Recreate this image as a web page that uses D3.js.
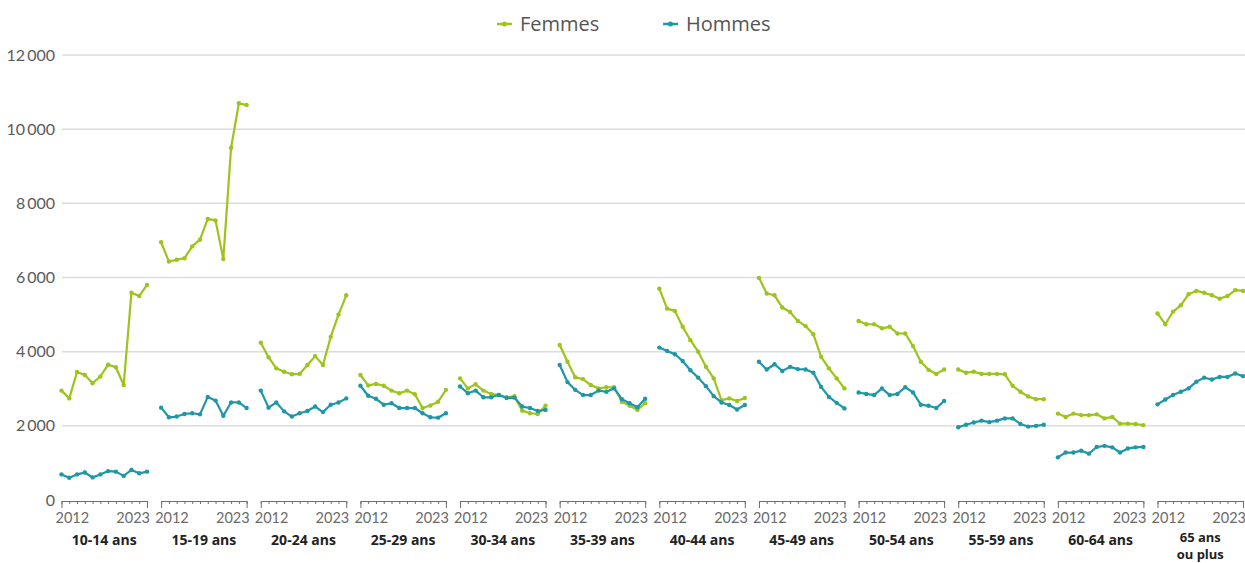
<!DOCTYPE html>
<html lang="fr">
<head>
<meta charset="UTF-8">
<title>Femmes / Hommes par âge</title>
<script src="https://d3js.org/d3.v7.min.js"></script>
<style>
  body { margin: 0; background: #fff; }
  svg { display: block; font-family: Lato, "Open Sans", sans-serif; }
</style>
</head>
<body>
<div id="chart"></div>
<script>
  // années et groupes d'âge
  const years = [2012, 2013, 2014, 2015, 2016, 2017, 2018, 2019, 2020, 2021, 2022, 2023];
  const groups = ["10-14 ans", "15-19 ans", "20-24 ans", "25-29 ans", "30-34 ans", "35-39 ans",
    "40-44 ans", "45-49 ans", "50-54 ans", "55-59 ans", "60-64 ans", "65 ans\nou plus"];

  // valeurs, une ligne par groupe d'âge
  const femmes = [
    [2950, 2740, 3450, 3370, 3150, 3330, 3650, 3580, 3100, 5590, 5500, 5800],
    [6950, 6430, 6480, 6520, 6840, 7020, 7580, 7540, 6500, 9500, 10700, 10650],
    [4240, 3850, 3550, 3460, 3390, 3400, 3640, 3880, 3640, 4400, 5000, 5520],
    [3370, 3090, 3130, 3080, 2950, 2880, 2950, 2850, 2480, 2550, 2650, 2970],
    [3280, 3010, 3120, 2950, 2860, 2830, 2770, 2800, 2410, 2340, 2320, 2540],
    [4180, 3730, 3310, 3260, 3100, 3010, 3040, 3040, 2650, 2540, 2430, 2610],
    [5700, 5160, 5100, 4670, 4310, 4000, 3590, 3280, 2690, 2740, 2670, 2750],
    [5990, 5570, 5520, 5190, 5070, 4830, 4690, 4470, 3860, 3550, 3280, 3010],
    [4830, 4740, 4740, 4630, 4670, 4490, 4490, 4150, 3730, 3510, 3400, 3520],
    [3520, 3430, 3460, 3400, 3400, 3400, 3390, 3080, 2920, 2790, 2720, 2720],
    [2330, 2240, 2330, 2290, 2290, 2310, 2200, 2240, 2060, 2060, 2050, 2020],
    [5030, 4740, 5080, 5250, 5550, 5640, 5590, 5520, 5430, 5500, 5660, 5640]
  ];
  const hommes = [
    [690, 600, 690, 740, 610, 690, 780, 765, 650, 810, 720, 765],
    [2490, 2230, 2250, 2320, 2340, 2310, 2780, 2680, 2270, 2630, 2630, 2480],
    [2950, 2490, 2630, 2390, 2250, 2340, 2400, 2520, 2370, 2570, 2630, 2740],
    [3080, 2810, 2730, 2570, 2610, 2480, 2480, 2480, 2340, 2230, 2220, 2340],
    [3060, 2880, 2950, 2770, 2770, 2830, 2750, 2760, 2520, 2480, 2400, 2430],
    [3640, 3180, 2970, 2830, 2830, 2950, 2920, 3010, 2720, 2610, 2500, 2730],
    [4110, 4020, 3930, 3750, 3500, 3300, 3070, 2800, 2630, 2560, 2440, 2560],
    [3730, 3520, 3660, 3480, 3590, 3530, 3520, 3430, 3050, 2780, 2620, 2470],
    [2900, 2860, 2830, 3010, 2830, 2860, 3040, 2900, 2570, 2540, 2480, 2670],
    [1960, 2030, 2090, 2140, 2100, 2140, 2200, 2200, 2050, 1980, 2000, 2030],
    [1150, 1280, 1280, 1330, 1250, 1430, 1460, 1420, 1280, 1390, 1420, 1430],
    [2580, 2710, 2830, 2920, 3010, 3190, 3300, 3250, 3320, 3320, 3410, 3340]
  ];

  const yTicks = [0, 2000, 4000, 6000, 8000, 10000, 12000];
  const yTickLabels = ["0", "2\u2009000", "4\u2009000", "6\u2009000", "8\u2009000", "10\u2009000", "12\u2009000"];

  const seriesNames = ["Femmes", "Hommes"];
  const colors = { Femmes: "#9cc41c", Hommes: "#1e97a6" };

  const width = 1245;
  const height = 563;

  const svg = d3.select("#chart").append("svg")
    .attr("width", width)
    .attr("height", height);

  const y = d3.scaleLinear().domain([0, 12000]).range([500, 55]);

  // un panneau par groupe d'âge
  const panel = d3.scaleBand()
    .domain(groups)
    .range([61.5, 1243])
    .paddingInner(0.142)
    .paddingOuter(0);

  const x = d3.scaleLinear()
    .domain([2012, 2023])
    .range([0, panel.bandwidth()]);

  // grille horizontale
  svg.append("g")
    .selectAll("line")
    .data(yTicks.filter(d => d > 0))
    .join("line")
    .attr("x1", 62)
    .attr("x2", width)
    .attr("y1", d => y(d))
    .attr("y2", d => y(d))
    .attr("stroke", "#dcdcdc")
    .attr("stroke-width", 1.5);

  svg.append("g")
    .selectAll("text")
    .data(yTicks)
    .join("text")
    .attr("x", 55)
    .attr("y", d => y(d))
    .attr("dy", "0.35em")
    .attr("text-anchor", "end")
    .attr("fill", "#5a5a5a")
    .style("font-size", "16px")
    .text((d, i) => yTickLabels[i]);

  const line = d3.line()
    .x((d, i) => x(years[i]))
    .y(d => y(d));

  groups.forEach((g, gi) => {
    const gp = svg.append("g")
      .attr("transform", `translate(${panel(g)},0)`);

    // axe en crochet
    const axis = d3.axisBottom(x)
      .tickValues(years)
      .tickFormat("")
      .tickSizeInner(3)
      .tickSizeOuter(7);

    gp.append("g")
      .attr("transform", "translate(0,501)")
      .call(axis)
      .call(a => a.selectAll("path, line").attr("stroke", "#6f6f6f").attr("stroke-width", 1));

    gp.append("text")
      .attr("x", x(2012) - 6)
      .attr("y", 523)
      .attr("fill", "#6a6a6a")
      .style("font-size", "14.5px")
      .text(years[0]);

    gp.append("text")
      .attr("x", x(2023) + 3)
      .attr("y", 523)
      .attr("text-anchor", "end")
      .attr("fill", "#6a6a6a")
      .style("font-size", "14.5px")
      .text(years[years.length - 1]);

    const parts = g.split("\n");
    const twoLines = parts.length > 1;
    const label = gp.append("text")
      .attr("x", panel.bandwidth() / 2)
      .attr("y", twoLines ? 542 : 545)
      .attr("text-anchor", "middle")
      .attr("fill", "#222")
      .style("font-family", "'Open Sans', sans-serif")
      .style("font-size", twoLines ? "13px" : "14px")
      .style("font-weight", "bold");
    parts.forEach((t, li) => {
      label.append("tspan")
        .attr("x", panel.bandwidth() / 2)
        .attr("dy", li === 0 ? 0 : 17)
        .text(t);
    });

    [["Femmes", femmes[gi]], ["Hommes", hommes[gi]]].forEach(([name, vals]) => {
      gp.append("path")
        .datum(vals)
        .attr("d", line)
        .attr("fill", "none")
        .attr("stroke", colors[name])
        .attr("stroke-width", 2.2)
        .attr("stroke-linejoin", "round");

      gp.selectAll(null)
        .data(vals)
        .join("circle")
        .attr("cx", (d, i) => x(years[i]))
        .attr("cy", d => y(d))
        .attr("r", 2.2)
        .attr("fill", colors[name]);
    });
  });

  // légende
  const legendX = { Femmes: 497, Hommes: 663 };
  const legend = svg.append("g");
  seriesNames.forEach(name => {
    const lg = legend.append("g").attr("transform", `translate(${legendX[name]},24)`);
    lg.append("line")
      .attr("x1", 0).attr("x2", 15)
      .attr("stroke", colors[name]).attr("stroke-width", 2.5);
    lg.append("circle")
      .attr("cx", 7.5).attr("r", 2.5)
      .attr("fill", colors[name]);
    lg.append("text")
      .attr("x", 23)
      .attr("dy", "0.35em")
      .attr("fill", "#555")
      .style("font-family", "'Open Sans', sans-serif")
      .style("font-size", "20px")
      .text(name);
  });
</script>
</body>
</html>
